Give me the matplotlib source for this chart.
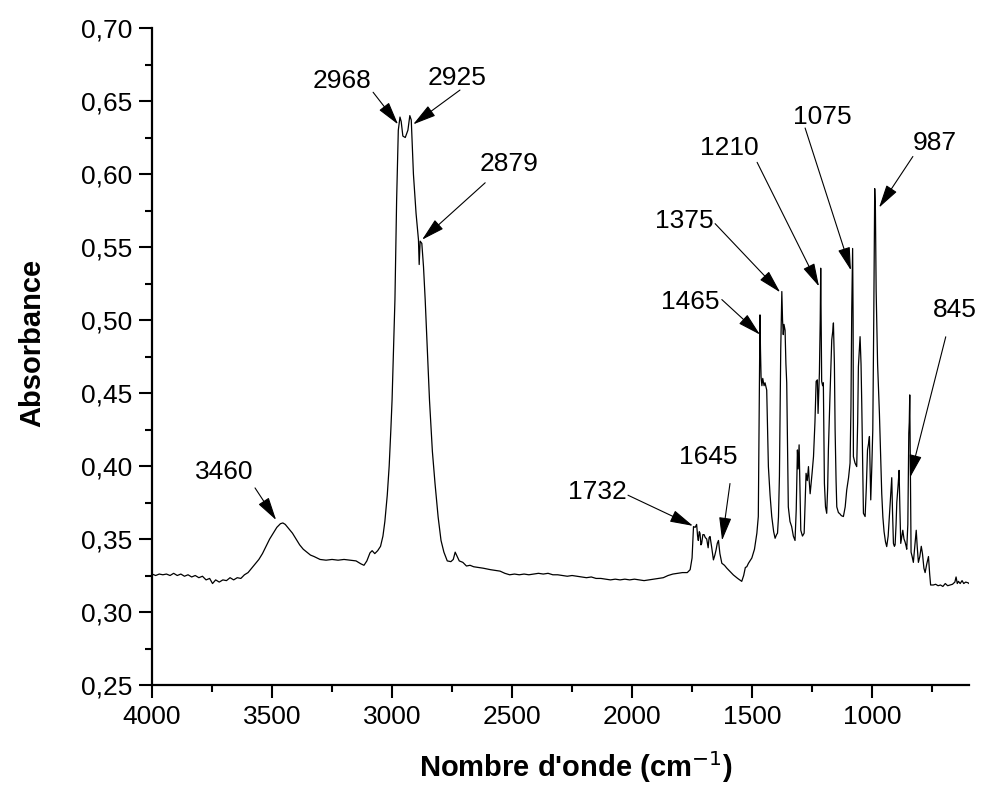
import matplotlib
matplotlib.use('Agg')
import matplotlib.pyplot as plt
from matplotlib.ticker import MultipleLocator, FuncFormatter

# spectre IR (nombre d'onde en cm-1, absorbance)
wavenumber = [
    4000, 3985, 3970, 3955, 3940, 3925, 3910, 3895, 3880, 3865, 3850, 3835, 3820, 3805,
    3790, 3775, 3760, 3748, 3735, 3720, 3705, 3690, 3675, 3660, 3645, 3630, 3615, 3600,
    3585, 3570, 3555, 3540, 3525, 3510, 3495, 3480, 3465, 3455, 3445, 3430, 3415, 3400,
    3385, 3370, 3355, 3340, 3325, 3300, 3275, 3250, 3225, 3200, 3175, 3150, 3130, 3117,
    3105, 3092, 3083, 3072, 3060, 3048, 3038, 3030, 3020, 3012, 3005, 3000, 2994, 2988,
    2981, 2974, 2967, 2962, 2955, 2945, 2934, 2926, 2920, 2911, 2900, 2890, 2887, 2883,
    2876, 2869, 2862, 2853, 2844, 2832, 2821, 2808, 2796, 2784, 2770, 2755, 2745, 2737,
    2730, 2720, 2705, 2690, 2675, 2660, 2640, 2620, 2605, 2590, 2570, 2550, 2530, 2510,
    2490, 2470, 2450, 2430, 2410, 2390, 2370, 2350, 2330, 2310, 2290, 2270, 2250, 2230,
    2210, 2190, 2170, 2150, 2130, 2110, 2090, 2070, 2050, 2030, 2010, 1990, 1970, 1950,
    1930, 1910, 1890, 1870, 1850, 1830, 1810, 1790, 1770, 1758, 1750, 1744, 1737, 1731,
    1727, 1724, 1720, 1717, 1713, 1710, 1705, 1700, 1695, 1689, 1683, 1679, 1675, 1668,
    1661, 1655, 1650, 1645, 1640, 1634, 1626, 1615, 1605, 1590, 1578, 1560, 1543, 1535,
    1528, 1522, 1515, 1507, 1501, 1490, 1480, 1474, 1471, 1467, 1465, 1462.5, 1459, 1455.5,
    1450, 1446, 1439, 1432, 1425, 1418, 1410, 1404, 1398, 1394, 1390, 1386, 1380.5, 1376,
    1373, 1370, 1367, 1362.5, 1359, 1355.6, 1349, 1342, 1335, 1328, 1321, 1316, 1311, 1308,
    1304, 1300, 1297, 1290, 1283, 1279, 1275, 1270, 1265, 1262, 1258, 1250, 1244, 1238,
    1233, 1228, 1225, 1222, 1219.5, 1216, 1214, 1212, 1210, 1206, 1203, 1198.6, 1194, 1189,
    1185, 1182, 1175, 1168, 1164, 1161, 1157, 1154, 1150, 1147, 1140, 1136, 1128, 1119.5,
    1112, 1105.6, 1098, 1091.7, 1088, 1084.7, 1081, 1079, 1077.8, 1071, 1064, 1060, 1057, 1050,
    1046, 1043, 1039, 1036, 1029, 1024, 1019, 1015, 1011, 1008, 1005.5, 1001, 997, 993,
    989, 986, 983, 977, 969.4, 964, 959.7, 955, 950, 944, 939, 933, 928, 922,
    918, 915, 911, 907, 904, 900, 897, 891, 887.5, 884, 880.5, 876, 872, 867,
    862.5, 858, 855.6, 851, 847, 845, 843, 840, 837.5, 833, 828, 822, 816, 812,
    807, 801, 795, 790, 784, 779, 772, 765, 760, 756, 745, 735, 725, 715,
    705, 695, 685, 675, 665, 655, 650, 645, 640, 633, 625, 618, 610, 600, 596,
]
absorbance = [
    0.326, 0.325, 0.326, 0.3255, 0.326, 0.325, 0.3265, 0.325, 0.326, 0.3245, 0.3255, 0.324, 0.325, 0.3235,
    0.3245, 0.322, 0.323, 0.3195, 0.322, 0.3205, 0.322, 0.3215, 0.3235, 0.322, 0.3235, 0.323, 0.3255, 0.327,
    0.330, 0.333, 0.336, 0.340, 0.345, 0.350, 0.354, 0.358, 0.3605, 0.361, 0.360, 0.357, 0.354, 0.350,
    0.346, 0.343, 0.341, 0.339, 0.338, 0.336, 0.3355, 0.336, 0.3355, 0.336, 0.3355, 0.335, 0.333, 0.332,
    0.335, 0.3405, 0.342, 0.340, 0.342, 0.345, 0.352, 0.362, 0.380, 0.400, 0.425, 0.445, 0.480, 0.514,
    0.582, 0.630, 0.639, 0.636, 0.626, 0.625, 0.630, 0.640, 0.637, 0.600, 0.573, 0.555, 0.538, 0.554,
    0.5525, 0.5365, 0.514, 0.480, 0.445, 0.410, 0.388, 0.365, 0.349, 0.341, 0.335, 0.3345, 0.336, 0.341,
    0.3385, 0.335, 0.334, 0.3315, 0.332, 0.331, 0.3305, 0.330, 0.3295, 0.329, 0.3285, 0.328, 0.3265, 0.3255,
    0.326, 0.3255, 0.326, 0.3255, 0.326, 0.3265, 0.326, 0.3265, 0.3255, 0.3255, 0.325, 0.3245, 0.325, 0.3245,
    0.324, 0.3235, 0.324, 0.323, 0.323, 0.3225, 0.322, 0.3225, 0.322, 0.3225, 0.322, 0.3225, 0.322, 0.3215,
    0.322, 0.3225, 0.323, 0.3235, 0.325, 0.326, 0.3265, 0.327, 0.327, 0.329, 0.337, 0.3585, 0.358, 0.360,
    0.352, 0.349, 0.355, 0.354, 0.346, 0.347, 0.353, 0.353, 0.351, 0.350, 0.344, 0.351, 0.3517, 0.344,
    0.3357, 0.339, 0.3425, 0.347, 0.349, 0.340, 0.3334, 0.332, 0.330, 0.3275, 0.3254, 0.323, 0.321, 0.325,
    0.3305, 0.331, 0.3334, 0.3355, 0.337, 0.343, 0.354, 0.3654, 0.4247, 0.5035, 0.480, 0.461, 0.455, 0.460,
    0.455, 0.457, 0.452, 0.3996, 0.380, 0.3654, 0.355, 0.3505, 0.353, 0.354, 0.365, 0.393, 0.480, 0.5195,
    0.500, 0.490, 0.497, 0.493, 0.470, 0.457, 0.372, 0.362, 0.3585, 0.352, 0.349, 0.370, 0.411, 0.398,
    0.4145, 0.380, 0.356, 0.352, 0.354, 0.375, 0.395, 0.390, 0.3996, 0.390, 0.381, 0.395, 0.4065, 0.430,
    0.458, 0.459, 0.436, 0.450, 0.4635, 0.500, 0.5355, 0.500, 0.458, 0.455, 0.457, 0.388, 0.372, 0.3676,
    0.385, 0.411, 0.450, 0.4864, 0.492, 0.498, 0.470, 0.4247, 0.390, 0.372, 0.368, 0.3676, 0.366, 0.3654,
    0.372, 0.3836, 0.392, 0.402, 0.440, 0.507, 0.549, 0.500, 0.4065, 0.402, 0.3996, 0.430, 0.468, 0.4886,
    0.470, 0.443, 0.400, 0.3676, 0.3654, 0.385, 0.411, 0.415, 0.4202, 0.395, 0.3768, 0.400, 0.4247, 0.500,
    0.590, 0.575, 0.520, 0.470, 0.436, 0.405, 0.381, 0.365, 0.355, 0.348, 0.3448, 0.352, 0.365, 0.380,
    0.392, 0.370, 0.347, 0.345, 0.346, 0.360, 0.375, 0.388, 0.397, 0.370, 0.347, 0.352, 0.356, 0.350,
    0.348, 0.345, 0.343, 0.360, 0.4224, 0.430, 0.4487, 0.390, 0.341, 0.338, 0.334, 0.345, 0.356, 0.345,
    0.334, 0.338, 0.345, 0.340, 0.330, 0.327, 0.333, 0.338, 0.326, 0.3185, 0.3185, 0.319, 0.318, 0.3185,
    0.3175, 0.3195, 0.318, 0.3185, 0.319, 0.3205, 0.324, 0.3195, 0.321, 0.3195, 0.3215, 0.3195, 0.3205, 0.320, 0.3195,
]

# annotations des pics
peak_labels = ['3460', '2968', '2925', '2879', '1732', '1645',
               '1465', '1375', '1210', '1075', '987', '845']
peak_tips = [(3483, 0.363), (2975, 0.634), (2912, 0.634), (2875, 0.555),
             (1746, 0.359), (1625, 0.349), (1467, 0.490), (1383, 0.519),
             (1221, 0.523), (1088, 0.534), (971, 0.577), (842, 0.392)]
label_pos = [(3700, 0.396), (3208, 0.664), (2729, 0.666), (2512, 0.607),
             (2146, 0.382), (1683, 0.406), (1758, 0.512), (1783, 0.568),
             (1596, 0.618), (1206, 0.639), (740, 0.621), (654, 0.507)]
arrow_tails = [(3571, 0.385), (3079, 0.656), (2717, 0.6575), (2612, 0.594),
               (2017, 0.380), (1592, 0.388), (1626, 0.514), (1654, 0.566),
               (1479, 0.608), (1279, 0.6315), (830, 0.612), (693, 0.4885)]

plt.rcParams['font.family'] = ['Liberation Sans', 'DejaVu Sans']

fig = plt.figure(figsize=(9.81, 7.89), dpi=100)
ax = fig.add_axes([0.155, 0.1318, 0.8328, 0.8327])

ax.plot(wavenumber, absorbance, color='black', lw=0.9)

for lab, pos, tail, tip in zip(peak_labels, label_pos, arrow_tails, peak_tips):
    ax.text(pos[0], pos[1], lab, fontsize=19, ha='center', va='center')
    ax.annotate('', xy=tip, xytext=tail,
                arrowprops=dict(arrowstyle='-|>,head_length=1.2,head_width=0.32',
                                color='black', lw=0.8, mutation_scale=12,
                                shrinkA=0, shrinkB=0))

ax.set_xlim(4000, 596)
ax.set_ylim(0.25, 0.70)
ax.xaxis.set_major_locator(MultipleLocator(500))
ax.xaxis.set_minor_locator(MultipleLocator(250))
ax.yaxis.set_major_locator(MultipleLocator(0.05))
ax.yaxis.set_minor_locator(MultipleLocator(0.025))
ax.yaxis.set_major_formatter(FuncFormatter(lambda v, p: f'{v:.2f}'.replace('.', ',')))

for s in ['top', 'right']:
    ax.spines[s].set_visible(False)
for s in ['left', 'bottom']:
    ax.spines[s].set_linewidth(1.6)

ax.tick_params(which='major', length=9.5, width=1.5, labelsize=19, pad=5)
ax.tick_params(which='minor', length=5, width=1.5)

ax.set_xlabel("Nombre d'onde (cm$^{\\mathrm{-1}}$)", fontsize=21, fontweight='bold')
ax.set_ylabel('Absorbance', fontsize=21, fontweight='bold')
ax.xaxis.set_label_coords(0.519, -0.097)
ax.yaxis.set_label_coords(-0.13, 0.52)

fig.savefig('out.png', dpi=100)
